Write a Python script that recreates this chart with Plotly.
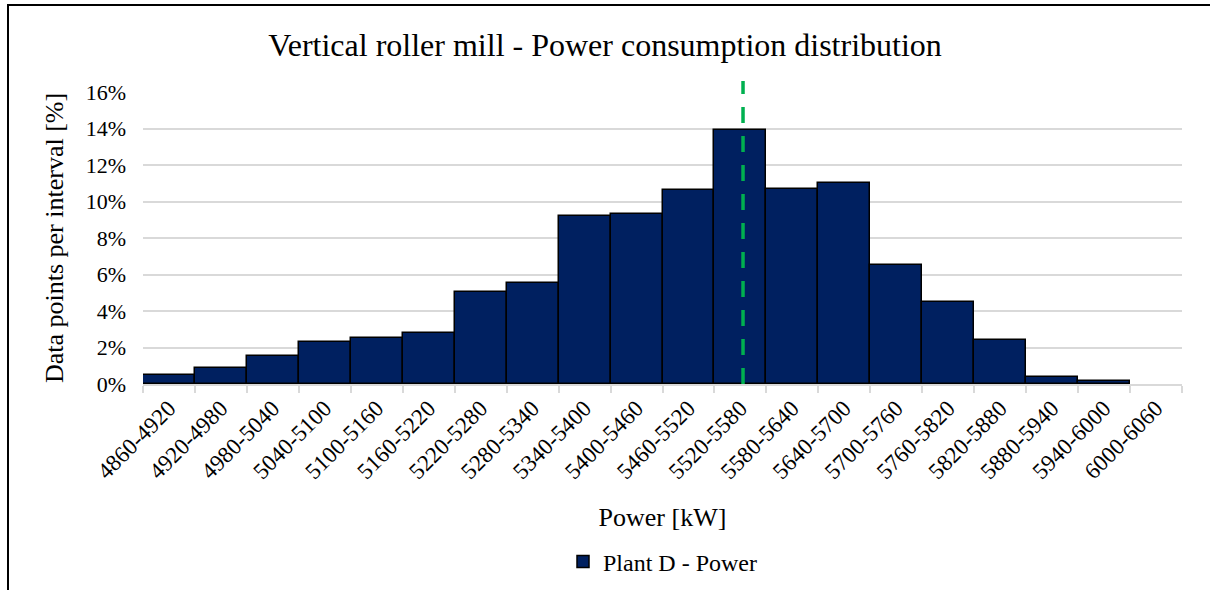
import plotly.graph_objects as go

# ========== DATA ==========
bin_lower = [4860, 4920, 4980, 5040, 5100, 5160, 5220, 5280, 5340, 5400,
             5460, 5520, 5580, 5640, 5700, 5760, 5820, 5880, 5940, 6000]
bin_width = 60
share_pct = [0.47, 0.88, 1.55, 2.32, 2.52, 2.82, 5.05, 5.55, 9.23, 9.34,
             10.62, 13.92, 10.69, 10.99, 6.54, 4.48, 2.43, 0.38, 0.16, 0.0]
mean_power = 5553  # kW, dashed green marker

categories = ['%d-%d' % (lo, lo + bin_width) for lo in bin_lower]
# empty bins are left blank (no zero-height outline)
share = [v / 100 if v > 0 else None for v in share_pct]

# ========== LAYOUT HELPERS ==========
W, H = 1210, 590
L, R, T, B = 143, 28, 92, 206
pw, ph = W - L - R, H - T - B
font_family = 'Liberation Serif, Times New Roman, serif'


def px_x(x):
    return (x - L) / pw


def px_y(y):
    return (H - B - y) / ph


fig = go.Figure()
fig.add_trace(go.Bar(
    x=categories, y=share, name='Plant D - Power',
    marker=dict(color='#002060', line=dict(color='black', width=1.5)),
))

# mean marker position on the category axis
mean_pos = (mean_power - bin_lower[0]) / bin_width - 0.5

shapes = [
    dict(type='line', xref='x', yref='paper', x0=mean_pos, x1=mean_pos,
         y0=0, y1=px_y(81), line=dict(color='#00B050', width=3.5, dash='16px,13px')),
    # outer frame (top and left only)
    dict(type='line', xref='paper', yref='paper', x0=px_x(7), x1=px_x(W + 5),
         y0=px_y(5), y1=px_y(5), line=dict(color='black', width=2)),
    dict(type='line', xref='paper', yref='paper', x0=px_x(8), x1=px_x(8),
         y0=px_y(4), y1=px_y(H + 5), line=dict(color='black', width=2)),
]

fig.update_layout(
    width=W, height=H,
    margin=dict(l=L, r=R, t=T, b=B, autoexpand=False),
    paper_bgcolor='white', plot_bgcolor='white',
    font=dict(family=font_family, color='black', size=22),
    title=dict(text='Vertical roller mill - Power consumption distribution',
               x=0.5, xanchor='center', y=1 - 45 / H, yanchor='middle',
               font=dict(size=32, family=font_family, color='black')),
    bargap=0,
    showlegend=True,
    legend=dict(orientation='h', x=0.5, xanchor='center', y=px_y(562), yanchor='middle',
                font=dict(size=24, family=font_family, color='black'), itemwidth=30),
    shapes=shapes,
)

fig.update_xaxes(
    type='category', tickangle=-45,
    tickfont=dict(size=23, family=font_family, color='black'),
    showline=True, linecolor='#D9D9D9', linewidth=1.5,
    ticks='outside', tickson='boundaries', ticklen=7, tickcolor='#D9D9D9', tickwidth=1.5,
    showgrid=False,
    title=dict(text='Power [kW]', font=dict(size=26, family=font_family, color='black'),
               standoff=25),
)
fig.update_yaxes(
    range=[0, 0.16], dtick=0.02, tickformat='.0%',
    tickfont=dict(size=22, family=font_family, color='black'), ticklabelstandoff=16,
    showgrid=True, gridcolor='#D9D9D9', gridwidth=1.5,
    zeroline=False, showline=False,
    title=dict(text='Data points per interval [%]',
               font=dict(size=26, family=font_family, color='black'), standoff=14),
)

# page body has a default 8px margin; remove it so the figure sits at 0,0
fig.write_html('out.html', config={'displayModeBar': False},
               post_script="document.body.style.margin='0';")
